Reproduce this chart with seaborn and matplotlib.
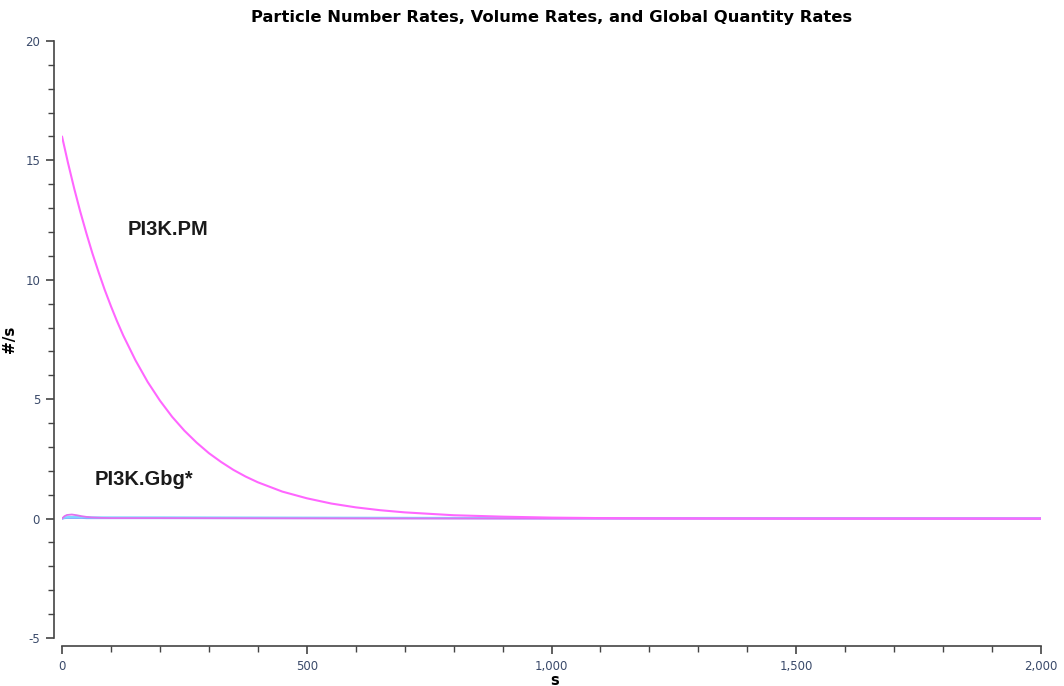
import numpy as np
import pandas as pd
import matplotlib
matplotlib.use("Agg")
import matplotlib.pyplot as plt
import seaborn as sns
from matplotlib.ticker import MultipleLocator, FuncFormatter

# values
t_pm = [0, 12, 25, 37, 50, 62, 75, 87, 100, 112, 125, 150, 175, 200, 225,
        250, 275, 300, 325, 350, 375, 400, 450, 500, 550, 600, 650, 700,
        800, 900, 1000, 1100, 1200, 1500, 2000]
pm_rate = [16.0, 14.91, 13.81, 12.87, 11.93, 11.11, 10.3, 9.59, 8.89, 8.28,
           7.67, 6.63, 5.72, 4.94, 4.26, 3.68, 3.18, 2.74, 2.37, 2.04, 1.76,
           1.52, 1.13, 0.85, 0.63, 0.47, 0.35, 0.26, 0.14, 0.08, 0.04, 0.02,
           0.01, 0.0, 0.0]

t_small = [0, 5, 10, 20, 30, 40, 50, 60, 80, 100, 200, 500, 1000, 1500, 2000]
gbg_rate = [0.0, 0.1, 0.15, 0.17, 0.14, 0.1, 0.07, 0.05, 0.03, 0.02, 0.02, 0.01, 0.0, 0.0, 0.0]
cyan_rate = [0.0, 0.04, 0.06, 0.07, 0.07, 0.06, 0.06, 0.05, 0.05, 0.05, 0.05, 0.04, 0.02, 0.01, 0.01]
blue_rate = [0.0, 0.02, 0.03, 0.03, 0.03, 0.03, 0.02, 0.02, 0.02, 0.02, 0.02, 0.02, 0.01, 0.01, 0.0]

sns.set_style("ticks")
plt.rcParams['font.family'] = ['DejaVu Sans']
plt.rcParams['axes.unicode_minus'] = False

fig = plt.figure(figsize=(10.64, 6.86), dpi=100)
ax = fig.add_axes([0.0583, 0.070, 0.9201, 0.8703])

sns.lineplot(x=t_small, y=blue_rate, ax=ax, color="#7fa8ff", linewidth=1.5)
sns.lineplot(x=t_small, y=cyan_rate, ax=ax, color="#80d8ff", linewidth=1.5)
sns.lineplot(x=t_small, y=gbg_rate, ax=ax, color="#e070f0", linewidth=1.3)
sns.lineplot(x=t_pm, y=pm_rate, ax=ax, color="#ff66ff", linewidth=1.5)

ax.set_xlim(0, 2000)
ax.set_ylim(-5, 20)
ax.xaxis.set_major_locator(MultipleLocator(500))
ax.xaxis.set_minor_locator(MultipleLocator(100))
ax.yaxis.set_major_locator(MultipleLocator(5))
ax.yaxis.set_minor_locator(MultipleLocator(1))
ax.xaxis.set_major_formatter(FuncFormatter(lambda v, p: f"{int(v):,}"))

sns.despine(ax=ax)
ax.spines['left'].set_position(('outward', 5.8))
ax.spines['bottom'].set_position(('outward', 5.8))
for s in ('left', 'bottom'):
    ax.spines[s].set_color('#444444')
    ax.spines[s].set_linewidth(1.2)
ax.tick_params(which='major', length=6, width=1.2, color='#444444',
               labelsize=8.5, labelcolor='#3a4a6a', pad=4)
ax.tick_params(which='minor', length=4, width=1.0, color='#444444')

ax.set_title("Particle Number Rates, Volume Rates, and Global Quantity Rates",
             fontsize=11.8, fontweight='bold', pad=14, color='black')
ax.set_xlabel("s", fontsize=10.5, fontweight='bold', color='black')
ax.xaxis.set_label_coords(0.503, -0.058)
ax.set_ylabel("#/s", fontsize=11, fontweight='bold', labelpad=6, color='black')

ax.text(134, 12.1, "PI3K.PM", fontsize=14.5, fontweight='bold',
        family=['Liberation Sans'], va='center', color='#1a1a1a')
ax.text(67, 1.65, "PI3K.Gbg*", fontsize=14.5, fontweight='bold',
        family=['Liberation Sans'], va='center', color='#1a1a1a')

fig.savefig("out.png", dpi=100)
